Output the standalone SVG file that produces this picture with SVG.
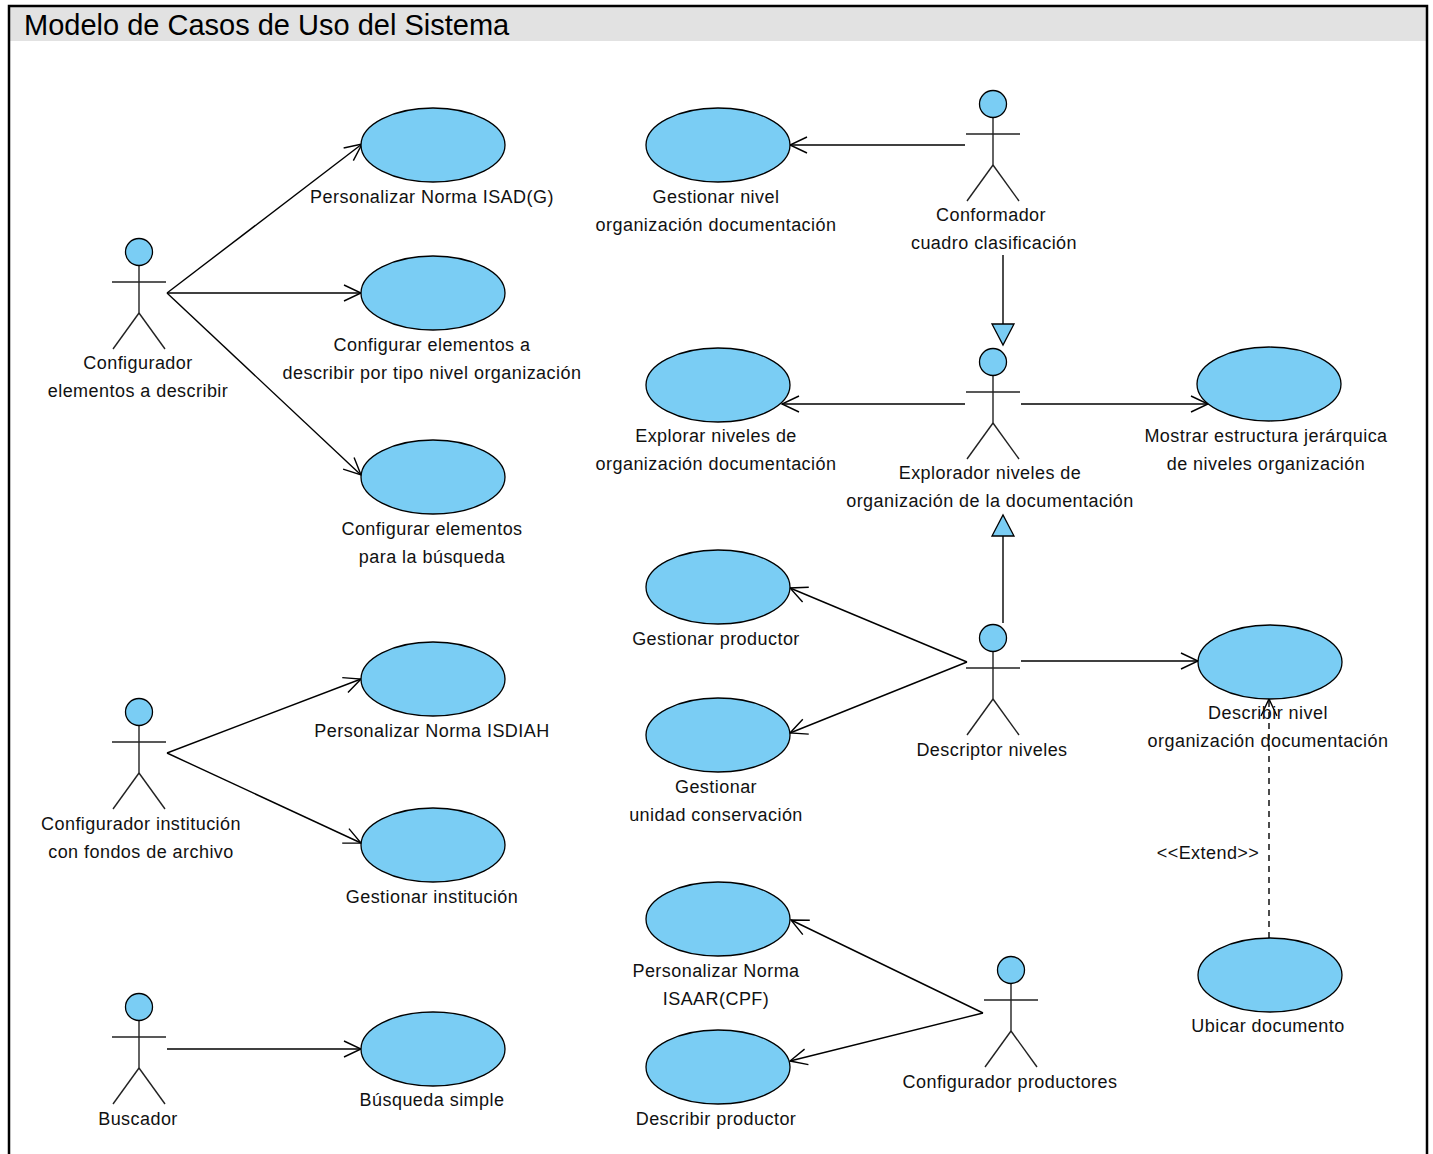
<svg xmlns="http://www.w3.org/2000/svg" xmlns:xlink="http://www.w3.org/1999/xlink" width="1433" height="1154" viewBox="0 0 1433 1154">
<style>
.uc{fill:#7acdf4;stroke:#000;stroke-width:1.3}
.lbl{font-family:"Liberation Sans",Arial,sans-serif;font-size:18px;letter-spacing:0.45px;fill:#111;text-anchor:middle}
.conn line{stroke:#000;stroke-width:1.4;fill:none}
.gen{fill:#7acdf4;stroke:#000;stroke-width:1.3}
</style>
<defs>
<marker id="open" markerUnits="userSpaceOnUse" markerWidth="40" markerHeight="40" viewBox="-20 -20 40 40" refX="0" refY="0" orient="auto">
<path d="M-17,-8 L0,0 L-17,8" fill="none" stroke="#000" stroke-width="1.4"/>
</marker>
<g id="actor" stroke="#222" stroke-width="1.4">
<line x1="0" y1="13.5" x2="0" y2="61"/>
<line x1="-27" y1="30" x2="27" y2="30"/>
<line x1="0" y1="61" x2="-26" y2="97"/>
<line x1="0" y1="61" x2="26" y2="97"/>
<circle cx="0" cy="0" r="13.5" fill="#7acdf4" stroke="#000" stroke-width="1.3"/>
</g>
</defs>
<rect x="0" y="0" width="1433" height="1154" fill="#fff"/>
<g id="frame">
<rect x="9" y="6" width="1417" height="35" fill="#e2e2e2"/>
<path d="M9,1160 L9,6 L1427,6 L1427,1160" fill="none" stroke="#000" stroke-width="2.5"/>
<text x="24" y="35" font-family="Liberation Sans,Arial,sans-serif" font-size="29" fill="#000">Modelo de Casos de Uso del Sistema</text>
</g>
<g id="connectors" class="conn">
<line x1="167" y1="293" x2="362" y2="144" marker-end="url(#open)"/>
<line x1="167" y1="293" x2="361" y2="293" marker-end="url(#open)"/>
<line x1="167" y1="293" x2="361" y2="475" marker-end="url(#open)"/>
<line x1="167" y1="753" x2="361" y2="679" marker-end="url(#open)"/>
<line x1="167" y1="753" x2="361" y2="843" marker-end="url(#open)"/>
<line x1="167" y1="1049" x2="361" y2="1049" marker-end="url(#open)"/>
<line x1="965" y1="145" x2="790" y2="145" marker-end="url(#open)"/>
<line x1="965" y1="404" x2="782" y2="404" marker-end="url(#open)"/>
<line x1="1021" y1="404" x2="1208" y2="404" marker-end="url(#open)"/>
<line x1="967" y1="662" x2="790" y2="588" marker-end="url(#open)"/>
<line x1="967" y1="662" x2="790" y2="733" marker-end="url(#open)"/>
<line x1="1021" y1="661" x2="1198" y2="661" marker-end="url(#open)"/>
<line x1="983" y1="1013" x2="791" y2="920" marker-end="url(#open)"/>
<line x1="983" y1="1013" x2="790" y2="1061" marker-end="url(#open)"/>
<line x1="1269" y1="938" x2="1269" y2="699" stroke-dasharray="6,5" marker-end="url(#open)"/>
<line x1="1003" y1="255" x2="1003" y2="324"/>
<polygon class="gen" points="992,324 1014,324 1003,345"/>
<line x1="1003" y1="623" x2="1003" y2="536"/>
<polygon class="gen" points="992,536 1014,536 1003,515"/>
<text class="lbl" x="1208" y="859">&lt;&lt;Extend&gt;&gt;</text>
</g>
<g id="uc-isadg"><ellipse class="uc" cx="433" cy="145" rx="72" ry="37"/><text class="lbl" x="432" y="203">Personalizar Norma ISAD(G)</text></g>
<g id="uc-config-elem"><ellipse class="uc" cx="433" cy="293" rx="72" ry="37"/><text class="lbl" x="432" y="351">Configurar elementos a</text><text class="lbl" x="432" y="379">describir por tipo nivel organización</text></g>
<g id="uc-config-busq"><ellipse class="uc" cx="433" cy="477" rx="72" ry="37"/><text class="lbl" x="432" y="535">Configurar elementos</text><text class="lbl" x="432" y="563">para la búsqueda</text></g>
<g id="uc-isdiah"><ellipse class="uc" cx="433" cy="679" rx="72" ry="37"/><text class="lbl" x="432" y="737">Personalizar Norma ISDIAH</text></g>
<g id="uc-institucion"><ellipse class="uc" cx="433" cy="845" rx="72" ry="37"/><text class="lbl" x="432" y="903">Gestionar institución</text></g>
<g id="uc-busqueda"><ellipse class="uc" cx="433" cy="1049" rx="72" ry="37"/><text class="lbl" x="432" y="1106">Búsqueda simple</text></g>
<g id="uc-gest-nivel"><ellipse class="uc" cx="718" cy="145" rx="72" ry="37"/><text class="lbl" x="716" y="203">Gestionar nivel</text><text class="lbl" x="716" y="231">organización documentación</text></g>
<g id="uc-explorar"><ellipse class="uc" cx="718" cy="385" rx="72" ry="37"/><text class="lbl" x="716" y="442">Explorar niveles de</text><text class="lbl" x="716" y="470">organización documentación</text></g>
<g id="uc-productor"><ellipse class="uc" cx="718" cy="587" rx="72" ry="37"/><text class="lbl" x="716" y="645">Gestionar productor</text></g>
<g id="uc-unidad"><ellipse class="uc" cx="718" cy="735" rx="72" ry="37"/><text class="lbl" x="716" y="793">Gestionar</text><text class="lbl" x="716" y="821">unidad conservación</text></g>
<g id="uc-isaar"><ellipse class="uc" cx="718" cy="919" rx="72" ry="37"/><text class="lbl" x="716" y="977">Personalizar Norma</text><text class="lbl" x="716" y="1005">ISAAR(CPF)</text></g>
<g id="uc-desc-prod"><ellipse class="uc" cx="718" cy="1067" rx="72" ry="37"/><text class="lbl" x="716" y="1125">Describir productor</text></g>
<g id="uc-mostrar"><ellipse class="uc" cx="1269" cy="384" rx="72" ry="37"/><text class="lbl" x="1266" y="442">Mostrar estructura jerárquica</text><text class="lbl" x="1266" y="470">de niveles organización</text></g>
<g id="uc-desc-nivel"><ellipse class="uc" cx="1270" cy="662" rx="72" ry="37"/><text class="lbl" x="1268" y="719">Describir nivel</text><text class="lbl" x="1268" y="747">organización documentación</text></g>
<g id="uc-ubicar"><ellipse class="uc" cx="1270" cy="975" rx="72" ry="37"/><text class="lbl" x="1268" y="1032">Ubicar documento</text></g>
<g id="actor-config-elem"><use xlink:href="#actor" x="139" y="252"/><text class="lbl" x="138" y="369">Configurador</text><text class="lbl" x="138" y="397">elementos a describir</text></g>
<g id="actor-config-inst"><use xlink:href="#actor" x="139" y="712"/><text class="lbl" x="141" y="830">Configurador institución</text><text class="lbl" x="141" y="858">con fondos de archivo</text></g>
<g id="actor-buscador"><use xlink:href="#actor" x="139" y="1007"/><text class="lbl" x="138" y="1125">Buscador</text></g>
<g id="actor-conformador"><use xlink:href="#actor" x="993" y="104"/><text class="lbl" x="991" y="221">Conformador</text><text class="lbl" x="994" y="249">cuadro clasificación</text></g>
<g id="actor-explorador"><use xlink:href="#actor" x="993" y="362"/><text class="lbl" x="990" y="479">Explorador niveles de</text><text class="lbl" x="990" y="507">organización de la documentación</text></g>
<g id="actor-descriptor"><use xlink:href="#actor" x="993" y="638"/><text class="lbl" x="992" y="756">Descriptor niveles</text></g>
<g id="actor-productores"><use xlink:href="#actor" x="1011" y="970"/><text class="lbl" x="1010" y="1088">Configurador productores</text></g>
</svg>
